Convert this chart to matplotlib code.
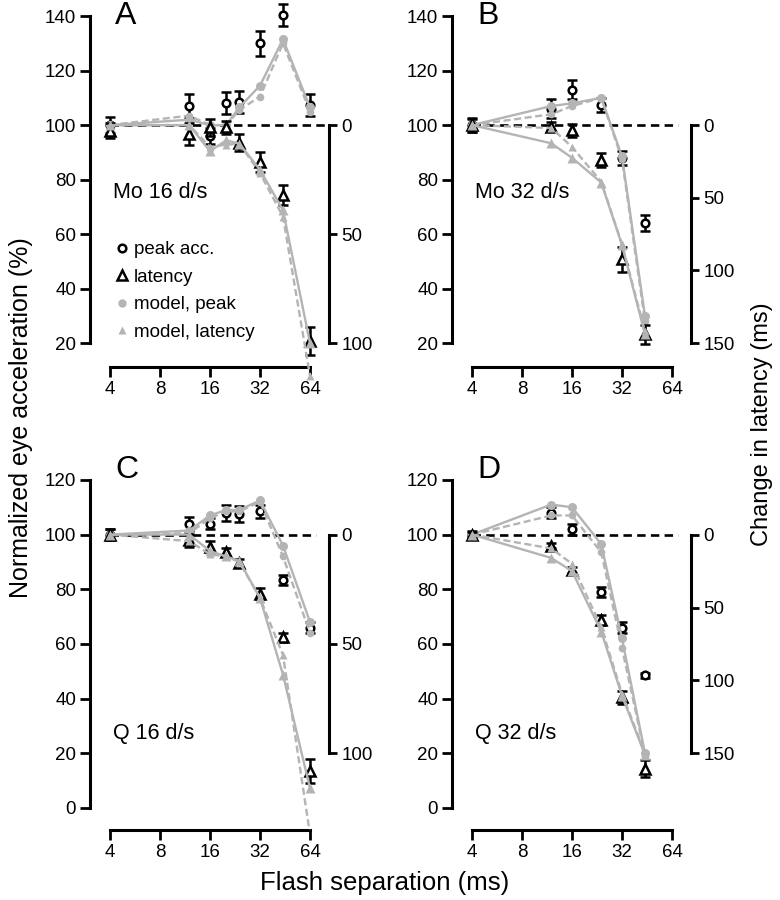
import numpy as np
import matplotlib.pyplot as plt
from matplotlib.lines import Line2D

plt.rcParams['font.family'] = ['Liberation Sans', 'DejaVu Sans']

# flash separations (ms)
sep_a = [4, 12, 16, 20, 24, 32, 44, 64]
sep_b = [4, 12, 16, 24, 32, 44]

# A: Mo 16 d/s  (peak in %, latency in ms)
a_peak = [100, 107, 96, 108, 108.5, 130, 140.5, 107.5]
a_peak_err = [3, 4.5, 3, 4, 4, 4.5, 4, 4]
a_lat = [2.5, 4, 1, 1, 8, 17, 32, 99]
a_lat_err = [3.5, 5, 4, 3, 4, 4.5, 4.5, 6.5]
a_mpeak = [100, 102, 100, 100, 106.5, 114.5, 131.5, 106.5]
a_mpeak2 = [100, 103.5, 100, 100, 105.5, 110.5, 130, 105]
a_mlat = [0, 0, 12, 7, 8.5, 20.5, 39, 100]
a_mlat2 = [0, 0, 10, 9, 8.5, 22, 42, 115]

# B: Mo 32 d/s
b_peak = [100, 106, 113, 107.5, 88, 64]
b_peak_err = [2.5, 3.5, 3.5, 2.5, 2.5, 3]
b_lat = [0, 1, 3.5, 24, 92.5, 144]
b_lat_err = [4.5, 3, 4.5, 4.5, 8.5, 6.5]
b_mpeak = [100, 107, 108, 110, 88.5, 30]
b_mpeak2 = [100, 104, 107, 110, 87.5, 28]
b_mlat = [0, 12.5, 22.5, 39.5, 82.5, 144]
b_mlat2 = [0, 2, 15, 39, 82, 142]

# C: Q 16 d/s
c_peak = [100, 104, 104, 108, 107.5, 108.5, 83.5, 66]
c_peak_err = [2, 2.5, 2, 3, 3, 2.5, 1.8, 2]
c_lat = [0, 2.5, 5.5, 8, 13, 27, 47, 108]
c_lat_err = [2.5, 3, 2.5, 2, 2, 2.5, 2, 5.5]
c_mpeak = [100, 101.5, 107, 109, 109, 112.5, 96, 68]
c_mpeak2 = [100, 100.5, 106, 108.5, 108.5, 112, 92, 64]
c_mlat = [0, 0, 7.5, 10, 12, 29, 64, 116]
c_mlat2 = [0, 3, 9, 10, 12.5, 29, 55, 137]

# D: Q 32 d/s
d_peak = [100, 108, 102, 79, 66, 48.5]
d_peak_err = [1.5, 2, 2, 2, 2, 0.8]
d_lat = [0, 7.5, 24.5, 58.5, 111.5, 160.5]
d_lat_err = [1.5, 1.5, 2, 3.5, 4.5, 6]
d_mpeak = [100, 111, 110, 96.5, 62, 20]
d_mpeak2 = [100, 107, 107, 93.5, 58.5, 19.5]
d_mlat = [0, 16, 25, 66.5, 110.5, 151]
d_mlat2 = [0, 9.5, 20, 63.5, 109, 150]

letters = ['A', 'B', 'C', 'D']
conditions = ['Mo 16 d/s', 'Mo 32 d/s', 'Q 16 d/s', 'Q 32 d/s']
lat_max = [100, 150, 100, 150]
pct_ticks_top = [20, 40, 60, 80, 100, 120, 140]
pct_ticks_bot = [0, 20, 40, 60, 80, 100, 120]
x_ticks = [4, 8, 16, 32, 64]

panels = [
    (sep_a, a_peak, a_peak_err, a_lat, a_lat_err, a_mpeak, a_mpeak2, a_mlat, a_mlat2),
    (sep_b, b_peak, b_peak_err, b_lat, b_lat_err, b_mpeak, b_mpeak2, b_mlat, b_mlat2),
    (sep_a, c_peak, c_peak_err, c_lat, c_lat_err, c_mpeak, c_mpeak2, c_mlat, c_mlat2),
    (sep_b, d_peak, d_peak_err, d_lat, d_lat_err, d_mpeak, d_mpeak2, d_mlat, d_mlat2),
]

W, H = 780, 900
fig = plt.figure(figsize=(W / 100, H / 100), dpi=100)

# axes boxes in pixels: left, top, right, bottom
boxes = [(90, 2, 340, 367), (452, 2, 702, 367), (90, 466, 340, 830), (452, 466, 702, 830)]
ylims = [(11.2, 145.2), (11.2, 145.2), (-8.06, 125.1), (-8.06, 125.1)]
ref_end = [80, 70, 70, 70]
gray = '#b4b4b4'

for i, (sep, peak, perr, lat, lerr, mp, mp2, ml, ml2) in enumerate(panels):
    l, t, r, b = boxes[i]
    ax = fig.add_axes([l / W, 1 - b / H, (r - l) / W, (b - t) / H])
    ax.set_xscale('log', base=2)
    ax.set_xlim(2 ** 1.6, 2 ** 6.6)
    ylo, yhi = ylims[i]
    ax.set_ylim(ylo, yhi)

    lat_ax = ax.twinx()
    k = 80 / lat_max[i]
    lat_ax.set_ylim((100 - ylo) / k, (100 - yhi) / k)

    # reference line
    ax.plot([4, ref_end[i]], [100, 100], color='k', lw=1.9, ls='--', dashes=(3.2, 2))

    ax.errorbar(sep, peak, yerr=perr, fmt='o', ms=5.5, mfc='white', mec='k', mew=1.8,
                ecolor='k', elinewidth=1.8, capsize=3.6, capthick=1.8, zorder=3)
    ax.plot(sep, mp, color=gray, lw=1.7, marker='o', ms=6.5, mec='none', zorder=4, clip_on=False)
    ax.plot(sep, mp2, color=gray, lw=1.7, ls='--', dashes=(3, 1.5), marker='o', ms=5.5,
            mec='none', zorder=4, clip_on=False)

    lat_ax.errorbar(sep, lat, yerr=lerr, fmt='^', ms=6.5, mfc='white', mec='k', mew=1.8,
                    ecolor='k', elinewidth=1.8, capsize=3.6, capthick=1.8, zorder=3)
    lat_ax.plot(sep, ml, color=gray, lw=1.7, marker='^', ms=6.5, mec='none', zorder=4)
    lat_ax.plot(sep, ml2, color=gray, lw=1.7, ls='--', dashes=(3, 1.5), marker='^', ms=5.5,
                mec='none', zorder=4, clip_on=(i == 2))

    # left / bottom axes
    for s in ['top', 'right']:
        ax.spines[s].set_visible(False)
    ax.spines['left'].set_linewidth(2.2)
    ax.spines['bottom'].set_linewidth(2.2)
    yt = pct_ticks_top if i < 2 else pct_ticks_bot
    ax.spines['left'].set_bounds(yt[0], yt[-1])
    ax.spines['bottom'].set_bounds(4, 64)
    ax.set_yticks(yt)
    ax.set_xticks(x_ticks)
    ax.set_xticklabels([str(v) for v in x_ticks])
    ax.minorticks_off()
    ax.tick_params(direction='out', length=7, width=2, labelsize=13.5, pad=3)

    # right latency axis
    for s in ['top', 'left', 'bottom']:
        lat_ax.spines[s].set_visible(False)
    lat_ax.spines['right'].set_position(('axes', 0.955))
    lat_ax.spines['right'].set_linewidth(2.2)
    lat_ax.spines['right'].set_bounds(0, lat_max[i])
    lat_ax.set_yticks(np.arange(0, lat_max[i] + 1, 50))
    lat_ax.tick_params(axis='y', direction='out', length=6, width=2, labelsize=13.5, pad=3)

    ax.text(0.1, 1 - 14 / (b - t) if i < 2 else 1 - 4 / (b - t), letters[i], transform=ax.transAxes,
            fontsize=23, va='center', ha='left')
    ax.text(0.093, 1 - 190 / (b - t) if i < 2 else 1 - 267 / (b - t), conditions[i],
            transform=ax.transAxes, fontsize=15.5, va='center', ha='left')

    if i == 0:
        handles = [
            Line2D([], [], ls='none', marker='o', ms=5.5, mfc='white', mec='k', mew=1.8),
            Line2D([], [], ls='none', marker='^', ms=6.5, mfc='white', mec='k', mew=1.8),
            Line2D([], [], ls='none', marker='o', ms=6, mfc=gray, mec='none'),
            Line2D([], [], ls='none', marker='^', ms=6, mfc=gray, mec='none'),
        ]
        ax.legend(handles, ['peak acc.', 'latency', 'model, peak', 'model, latency'],
                  loc='upper left', bbox_to_anchor=(0.105, 0.345), frameon=False,
                  fontsize=13.5, handlelength=0.6, handletextpad=0.35,
                  labelspacing=0.55, borderpad=0, borderaxespad=0)

fig.text(21 / W, 1 - 418 / H, 'Normalized eye acceleration (%)', rotation=90,
         ha='center', va='center', fontsize=18)
fig.text(762 / W, 1 - 424 / H, 'Change in latency (ms)', rotation=90,
         ha='center', va='center', fontsize=17)
fig.text(385 / W, 1 - 883 / H, 'Flash separation (ms)', ha='center', va='center', fontsize=18.5)

fig.savefig('out.png', dpi=100)
